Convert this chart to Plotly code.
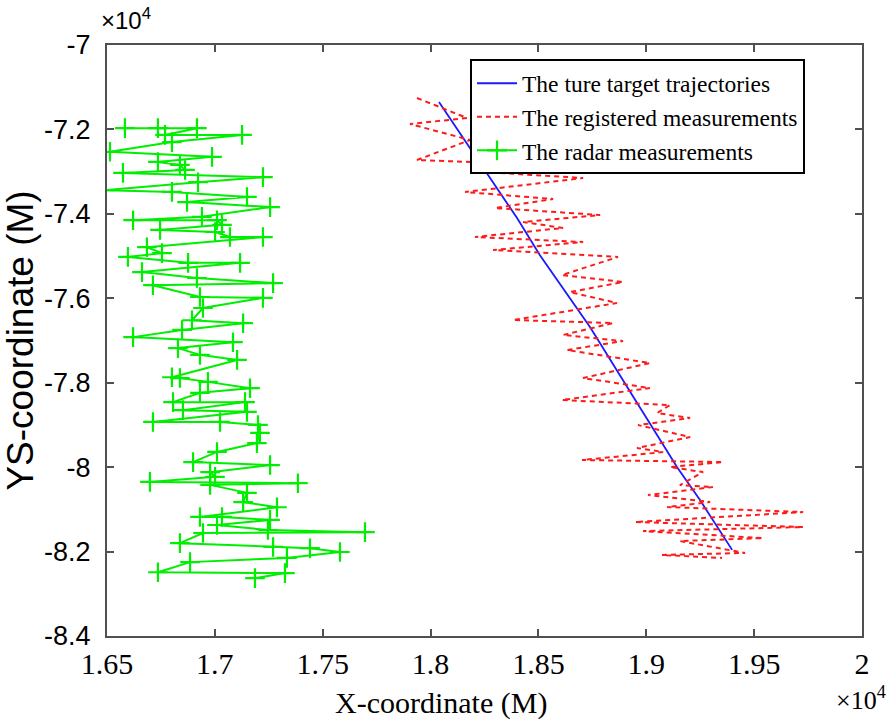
import plotly.graph_objects as go

# values in units of 10^4
true_x = [1.8039, 1.8174, 1.8290, 1.8401, 1.8507, 1.8614, 1.8739, 1.8892, 1.9017, 1.9143, 1.9249, 1.9398]
true_y = [-7.135, -7.237, -7.325, -7.410, -7.498, -7.576, -7.668, -7.794, -7.896, -8.000, -8.078, -8.196]

reg_x = [1.7937, 1.8169, 1.7905, 1.8183, 1.7937, 1.8554, 1.8322, 1.8707, 1.8160, 1.8568,
         1.8299, 1.8786, 1.8429, 1.8614, 1.8206, 1.8707, 1.8290, 1.8869, 1.8609, 1.8892,
         1.8646, 1.8864, 1.8382, 1.8846, 1.8614, 1.8892, 1.8633, 1.9017, 1.8707, 1.9017,
         1.8609, 1.9110, 1.9050, 1.9203, 1.8962, 1.9203, 1.8957, 1.9078, 1.8702, 1.9356,
         1.9110, 1.9263, 1.9156, 1.9309, 1.9008, 1.9296, 1.9096, 1.9727, 1.8948, 1.9727,
         1.8985, 1.9541, 1.9156, 1.9458, 1.9073, 1.9351]
reg_y = [-7.1256, -7.1729, -7.1872, -7.2251, -7.2724, -7.2843, -7.3032, -7.3151, -7.3483, -7.3648,
         -7.3862, -7.4027, -7.4193, -7.4335, -7.4549, -7.4667, -7.4857, -7.5022, -7.5449, -7.5615,
         -7.5852, -7.6112, -7.6515, -7.6586, -7.6870, -7.7013, -7.7226, -7.7534, -7.7889, -7.8126,
         -7.8410, -7.8529, -7.8718, -7.8837, -7.9003, -7.9287, -7.9547, -7.9642, -7.9832, -7.9879,
         -7.9998, -8.0116, -8.0424, -8.0471, -8.0661, -8.0827, -8.0945, -8.1064, -8.1301, -8.1419,
         -8.1514, -8.1680, -8.1751, -8.2033, -8.2080, -8.2151]

radar_x = [1.6583, 1.6736, 1.6917, 1.6769, 1.7126, 1.6801, 1.6514, 1.6987, 1.6736, 1.6838,
           1.6862, 1.6574, 1.7223, 1.6922, 1.6491, 1.6801, 1.7149, 1.6871, 1.7256, 1.6940,
           1.6621, 1.7010, 1.7033, 1.6746, 1.7001, 1.7070, 1.7223, 1.6685, 1.6755, 1.6597,
           1.6876, 1.7117, 1.6662, 1.6917, 1.7270, 1.6713, 1.6931, 1.7223, 1.6945, 1.6894,
           1.7131, 1.6848, 1.6621, 1.7084, 1.6829, 1.6931, 1.7103, 1.6801, 1.6838, 1.6968,
           1.7163, 1.6931, 1.6806, 1.7140, 1.6852, 1.7149, 1.6713, 1.7024, 1.7200, 1.7209,
           1.7195, 1.7010, 1.6899, 1.7256, 1.6978, 1.7001, 1.6699, 1.7385, 1.6978, 1.7149,
           1.7131, 1.7288, 1.6931, 1.7033, 1.7256, 1.7010, 1.7246, 1.7696, 1.6945, 1.6838,
           1.7270, 1.7441, 1.7580, 1.7334, 1.6885, 1.6736, 1.7325, 1.7186]
radar_y = [-7.197, -7.197, -7.197, -7.213, -7.213, -7.230, -7.253, -7.265, -7.277, -7.284,
           -7.296, -7.303, -7.313, -7.325, -7.344, -7.348, -7.360, -7.372, -7.384, -7.407,
           -7.415, -7.415, -7.426, -7.438, -7.443, -7.455, -7.455, -7.479, -7.493, -7.502,
           -7.516, -7.516, -7.538, -7.552, -7.564, -7.569, -7.597, -7.599, -7.623, -7.652,
           -7.659, -7.675, -7.692, -7.704, -7.718, -7.734, -7.746, -7.787, -7.789, -7.798,
           -7.813, -7.824, -7.846, -7.846, -7.865, -7.869, -7.893, -7.893, -7.900, -7.919,
           -7.943, -7.964, -7.988, -7.995, -8.012, -8.023, -8.035, -8.038, -8.042, -8.061,
           -8.083, -8.095, -8.118, -8.118, -8.125, -8.137, -8.149, -8.154, -8.156, -8.180,
           -8.189, -8.192, -8.201, -8.215, -8.225, -8.249, -8.251, -8.263]

x_ticks = [1.65, 1.7, 1.75, 1.8, 1.85, 1.9, 1.95, 2.0]
x_labels = ["1.65", "1.7", "1.75", "1.8", "1.85", "1.9", "1.95", "2"]
y_ticks = [-7.0, -7.2, -7.4, -7.6, -7.8, -8.0, -8.2, -8.4]
y_labels = ["-7", "-7.2", "-7.4", "-7.6", "-7.8", "-8", "-8.2", "-8.4"]

SERIF = "Liberation Serif"
SANS = "Liberation Sans"

fig = go.Figure()
fig.add_trace(go.Scatter(x=true_x, y=true_y, mode="lines", name="The ture target trajectories",
                         line=dict(color="#1a1aff", width=1.8)))
fig.add_trace(go.Scatter(x=reg_x, y=reg_y, mode="lines", name="The registered measurements",
                         line=dict(color="#ff1a1a", width=2, dash="5px,4px")))
fig.add_trace(go.Scatter(x=radar_x, y=radar_y, mode="lines+markers", name="The radar measurements",
                         line=dict(color="#00ee00", width=2),
                         marker=dict(symbol="cross-thin", size=14, color="#00ee00",
                                     line=dict(color="#00ee00", width=2.2))))

axis_common = dict(showgrid=False, zeroline=False, showline=True, linecolor="#505050", linewidth=2,
                   mirror="ticks", ticks="inside", ticklen=7, tickcolor="#505050", tickwidth=1.5)

xaxis = dict(range=[1.65, 2.0], tickmode="array", tickvals=x_ticks, ticktext=x_labels,
             tickfont=dict(family=SERIF, size=30, color="#000000"), **axis_common)
yaxis = dict(range=[-8.4, -7.0], tickmode="array", tickvals=y_ticks, ticktext=y_labels,
             tickfont=dict(family=SANS, size=27, color="#000000"), ticklabelstandoff=9,
             title=dict(text="YS-coordinate (M)", font=dict(family=SANS, size=37, color="#000000"),
                        standoff=2),
             **axis_common)

fig.update_layout(
    width=894, height=723,
    margin=dict(l=107, r=32, t=45, b=87),
    plot_bgcolor="white", paper_bgcolor="white",
    font=dict(family=SERIF, size=24, color="#000000"),
    xaxis=xaxis, yaxis=yaxis,
    legend=dict(x=0.4808, y=0.9755, xanchor="left", yanchor="top",
                bgcolor="white", bordercolor="#000", borderwidth=2,
                font=dict(family=SERIF, size=23.5, color="#000000"),
                itemwidth=40, tracegroupgap=0, entrywidth=380, entrywidthmode="pixels"),
)

# x-axis title (sits slightly left of the plot centre in the reference)
fig.add_annotation(text="X-coordinate (M)", xref="paper", yref="paper", x=0.442, y=-0.113,
                   xanchor="center", yanchor="middle", showarrow=False,
                   font=dict(family=SERIF, size=30, color="#000000"))
fig.add_annotation(text="×10<sup>4</sup>", xref="paper", yref="paper", x=-0.01, y=1.015,
                   xanchor="left", yanchor="bottom", showarrow=False,
                   font=dict(family=SANS, size=24, color="#000000"))
fig.add_annotation(text="×10<sup>4</sup>", xref="paper", yref="paper", x=1.035, y=-0.075,
                   xanchor="right", yanchor="top", showarrow=False,
                   font=dict(family=SERIF, size=26, color="#000000"))

fig.write_html("out.html")
